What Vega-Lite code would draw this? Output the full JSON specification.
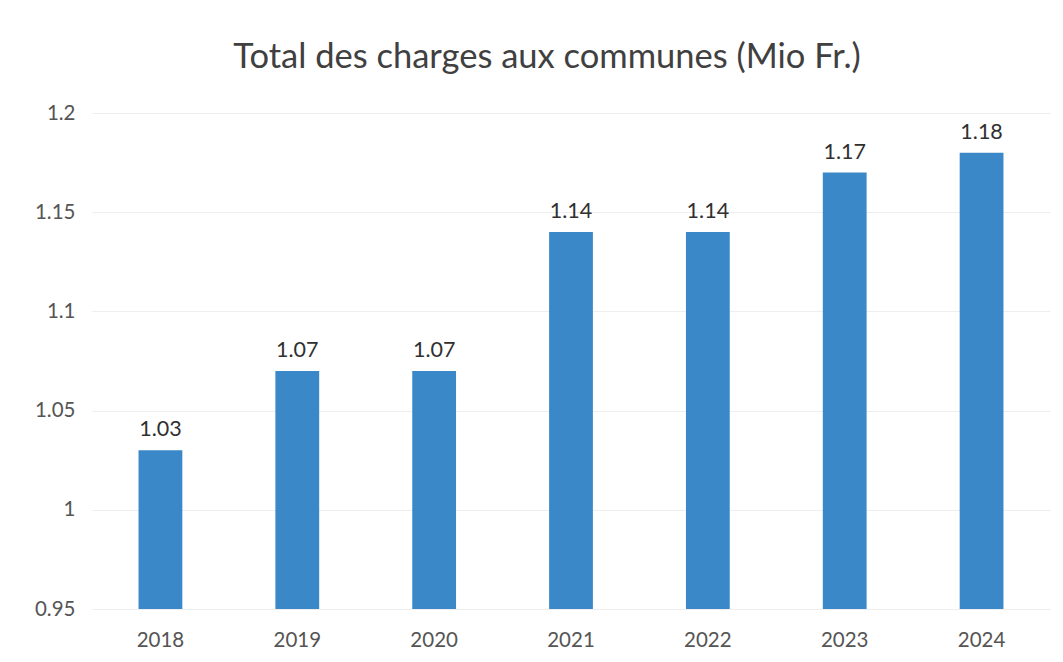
{
  "$schema": "https://vega.github.io/schema/vega-lite/v6.json",
  "autosize": "none",
  "width": 958,
  "height": 496,
  "padding": {"left": 92, "top": 113, "right": 13, "bottom": 53},
  "background": "white",
  "title": {
    "text": "Total des charges aux communes (Mio Fr.)",
    "font": "Lato",
    "fontSize": 34.5,
    "fontWeight": "normal",
    "color": "#404040",
    "anchor": "middle",
    "dx": -24,
    "offset": 28
  },
  "config": {
    "view": {"stroke": null},
    "font": "Lato"
  },
  "data": {
    "values": [
      {"year": "2018", "value": 1.03},
      {"year": "2019", "value": 1.07},
      {"year": "2020", "value": 1.07},
      {"year": "2021", "value": 1.14},
      {"year": "2022", "value": 1.14},
      {"year": "2023", "value": 1.17},
      {"year": "2024", "value": 1.18}
    ]
  },
  "encoding": {
    "x": {
      "field": "year",
      "type": "nominal",
      "sort": null,
      "title": null,
      "scale": {"paddingInner": 0.68, "paddingOuter": 0.34},
      "axis": {
        "labelAngle": 0,
        "labelFontSize": 20.5,
        "labelColor": "#555555",
        "labelPadding": 21,
        "ticks": false,
        "domain": false,
        "grid": false
      }
    },
    "y": {
      "field": "value",
      "type": "quantitative",
      "title": null,
      "scale": {"domain": [0.95, 1.2], "zero": false, "nice": false},
      "axis": {
        "values": [0.95, 1, 1.05, 1.1, 1.15, 1.2],
        "format": ".3~g",
        "labelFontSize": 20.5,
        "labelColor": "#555555",
        "labelPadding": 17,
        "ticks": false,
        "domain": false,
        "grid": true,
        "gridColor": "#eeeeee",
        "gridWidth": 1
      }
    }
  },
  "layer": [
    {
      "mark": {"type": "bar", "color": "#3b88c8"},
      "encoding": {"y2": {"datum": 0.95}}
    },
    {
      "mark": {"type": "text", "baseline": "bottom", "dy": -9, "fontSize": 21.5, "color": "#303030"},
      "encoding": {"text": {"field": "value", "type": "quantitative", "format": ".2f"}}
    }
  ]
}
